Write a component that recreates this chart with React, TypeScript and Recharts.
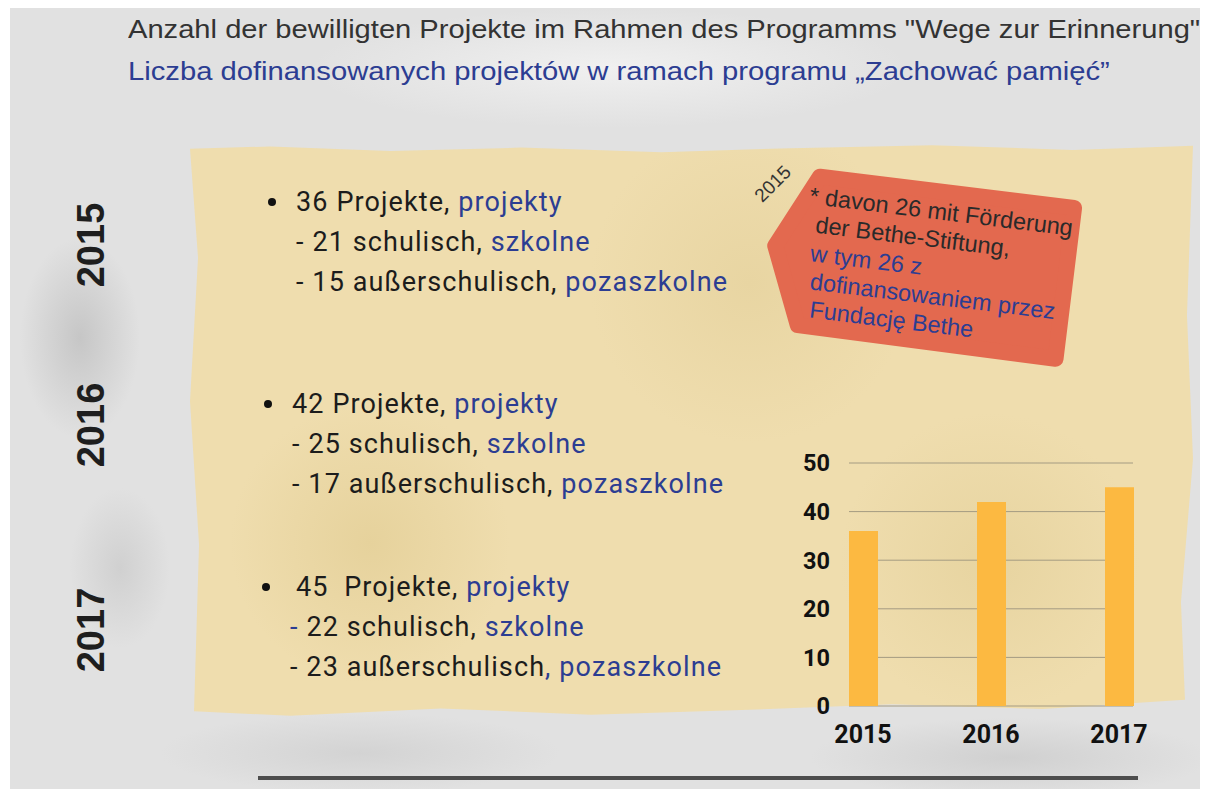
import React from "react";
import { BarChart, Bar, XAxis, YAxis, CartesianGrid } from "recharts";

const years = [2015, 2016, 2017];
const totalProjects = [36, 42, 45];
const schoolProjects = [21, 25, 22];
const outOfSchoolProjects = [15, 17, 23];
const yTicks = [0, 10, 20, 30, 40, 50];

const titleDe = 'Anzahl der bewilligten Projekte im Rahmen des Programms "Wege zur Erinnerung"';
const titlePl = "Liczba dofinansowanych projektów w ramach programu „Zachować pamięć”";

const noteDe = ["* davon 26 mit Förderung", " der Bethe-Stiftung,"];
const notePl = ["w tym 26 z", "dofinansowaniem przez", "Fundację Bethe"];

const chartData = years.map((year, i) => ({ year, total: totalProjects[i] }));

const BLUE = "#2c3d92";
const DARK = "#1c1c1c";
const FONT = "Roboto, 'Noto Sans', sans-serif";
const ARIAL = "'Liberation Sans', Arial, sans-serif";

// top of each year block (bullet line), left edge of bullet
const blocks = [
  { top: 186, left: 268, yearTop: 245 },
  { top: 388, left: 264, yearTop: 425 },
  { top: 571, left: 262, yearTop: 630 },
];

const YearBlock = ({ i }: { i: number }) => {
  const b = blocks[i];
  const last = i === 2; // the 2017 block was typed a bit differently
  const line = {
    position: "absolute" as const,
    fontSize: 27,
    whiteSpace: "nowrap" as const,
    color: DARK,
    letterSpacing: 1.1,
  };
  return (
    <>
      <div
        style={{
          position: "absolute",
          left: 91,
          top: b.yearTop,
          transform: "translate(-50%, -50%) rotate(-90deg)",
          fontSize: 38,
          fontWeight: 700,
          fontFamily: ARIAL,
          color: "#1e1e1e",
        }}
      >
        {years[i]}
      </div>
      <div style={{ position: "absolute", left: b.left, top: b.top, fontFamily: FONT }}>
        <div style={{ ...line, left: 0, top: 0 }}>
          <span
            style={{
              display: "inline-block",
              width: 8,
              height: 8,
              borderRadius: 4,
              background: "#111",
              verticalAlign: "middle",
              marginTop: -4,
              marginRight: last ? 26 : 20,
            }}
          />
          {totalProjects[i]}
          {last ? "\u00a0 " : " "}Projekte, <span style={{ color: BLUE }}>projekty</span>
        </div>
        <div style={{ ...line, left: 28, top: 40 }}>
          <span style={{ color: last ? BLUE : DARK }}>-</span> {schoolProjects[i]} schulisch,{" "}
          <span style={{ color: BLUE }}>szkolne</span>
        </div>
        <div style={{ ...line, left: 28, top: 80 }}>
          - {outOfSchoolProjects[i]} außerschulisch
          <span style={{ color: last ? BLUE : DARK }}>,</span> <span style={{ color: BLUE }}>pozaszkolne</span>
        </div>
      </div>
    </>
  );
};

export default function App() {
  const title = {
    position: "absolute" as const,
    left: 128,
    fontSize: 26,
    fontFamily: ARIAL,
    whiteSpace: "nowrap" as const,
    transformOrigin: "0 50%",
  };
  return (
    <div
      style={{
        position: "relative",
        width: 1207,
        height: 789,
        overflow: "hidden",
        background: "#ffffff",
        fontFamily: FONT,
      }}
    >
      <style>{"body{margin:0}"}</style>
      {/* grey stone background */}
      <div
        style={{
          position: "absolute",
          left: 10,
          top: 8,
          width: 1190,
          height: 781,
          background:
            "radial-gradient(ellipse 60px 100px at 70px 330px, #c6c6c6 0, rgba(200,200,200,0) 100%)," +
            "radial-gradient(ellipse 50px 80px at 110px 560px, #d0d0d0 0, rgba(200,200,200,0) 100%)," +
            "radial-gradient(ellipse 300px 60px at 600px 60px, #f0f0f0 0, rgba(240,240,240,0) 100%)," +
            "radial-gradient(ellipse 200px 40px at 1000px 750px, #d0d0d0 0, rgba(200,200,200,0) 100%)," +
            "radial-gradient(ellipse 200px 40px at 350px 745px, #d3d3d3 0, rgba(200,200,200,0) 100%)," +
            "#e1e1e1",
        }}
      />
      {/* paper */}
      <div
        style={{
          position: "absolute",
          left: 190,
          top: 143,
          width: 1003,
          height: 574,
          clipPath:
            "polygon(0% 1%, 8% 0.6%, 20% 1.4%, 33% 0.8%, 47% 1.6%, 60% 0.9%, 74% 0.4%, 88% 1.2%, 100% 0.5%, 99.4% 30%, 100% 55%, 98.8% 80%, 99.2% 97%, 85% 98.6%, 70% 97.8%, 55% 98.8%, 40% 99.6%, 25% 98.5%, 10% 99.8%, 0.4% 99%, 0.9% 70%, 0% 45%, 0.8% 20%)",
          background:
            "radial-gradient(circle at 180px 400px, #e6d29c 0, rgba(230,210,160,0) 140px)," +
            "radial-gradient(circle at 560px 140px, #e8d5a2 0, rgba(230,210,160,0) 160px)," +
            "radial-gradient(circle at 800px 420px, #e7d4a0 0, rgba(230,210,160,0) 150px)," +
            "#efddae",
        }}
      />
      <div style={{ ...title, top: 14, color: "#333", transform: "scaleX(1.12)" }}>{titleDe}</div>
      <div style={{ ...title, top: 56, color: BLUE, transform: "scaleX(1.123)" }}>{titlePl}</div>

      {years.map((_, i) => (
        <YearBlock key={i} i={i} />
      ))}

      {/* 2015 note tag */}
      <svg
        width={1207}
        height={789}
        style={{ position: "absolute", left: 0, top: 0, pointerEvents: "none" }}
      >
        <text
          x={773}
          y={190}
          transform="rotate(-45 773 184)"
          textAnchor="middle"
          fontSize={19}
          fill="#333"
          fontFamily={ARIAL}
        >
          2015
        </text>
        <g transform="translate(815 168) rotate(7)">
          <polygon
            points="6,8 262,8 262,160 2,158 -30,82"
            fill="#e3694f"
            stroke="#e3694f"
            strokeWidth={16}
            strokeLinejoin="round"
          />
          <g fontFamily={ARIAL} fontSize={23.5}>
            {noteDe.map((t, k) => (
              <text key={t} x={-2 + k * 3} y={36 + k * 28} fill="#2a2a2a" xmlSpace="preserve">
                {t}
              </text>
            ))}
            {notePl.map((t, k) => (
              <text key={t} x={6 + k * 3} y={93 + k * 28} fill={BLUE}>
                {t}
              </text>
            ))}
          </g>
        </g>
      </svg>

      <div style={{ position: "absolute", left: 780, top: 440 }}>
        <BarChart
          width={400}
          height={320}
          data={chartData}
          margin={{ top: 23, right: 47, left: 0, bottom: 14 }}
        >
          <CartesianGrid vertical={false} stroke="#a49b82" />
          <XAxis
            dataKey="year"
            type="number"
            domain={[2015, 2017]}
            ticks={years}
            padding={{ left: 14, right: 14 }}
            axisLine={false}
            tickLine={false}
            tickSize={0}
            tickMargin={19}
            height={40}
            tick={{ fontSize: 25, fontWeight: 700, fill: "#111", fontFamily: FONT }}
          />
          <YAxis
            domain={[0, 50]}
            ticks={yTicks}
            width={69}
            axisLine={false}
            tickLine={false}
            tickSize={0}
            tickMargin={19}
            tick={{ fontSize: 23.5, fontWeight: 700, fill: "#111", fontFamily: FONT }}
          />
          <Bar dataKey="total" fill="#fcb941" barSize={29} isAnimationActive={false} />
        </BarChart>
      </div>

      <div
        style={{ position: "absolute", left: 258, top: 776, width: 880, height: 4, background: "#4d4d4d" }}
      />
    </div>
  );
}
